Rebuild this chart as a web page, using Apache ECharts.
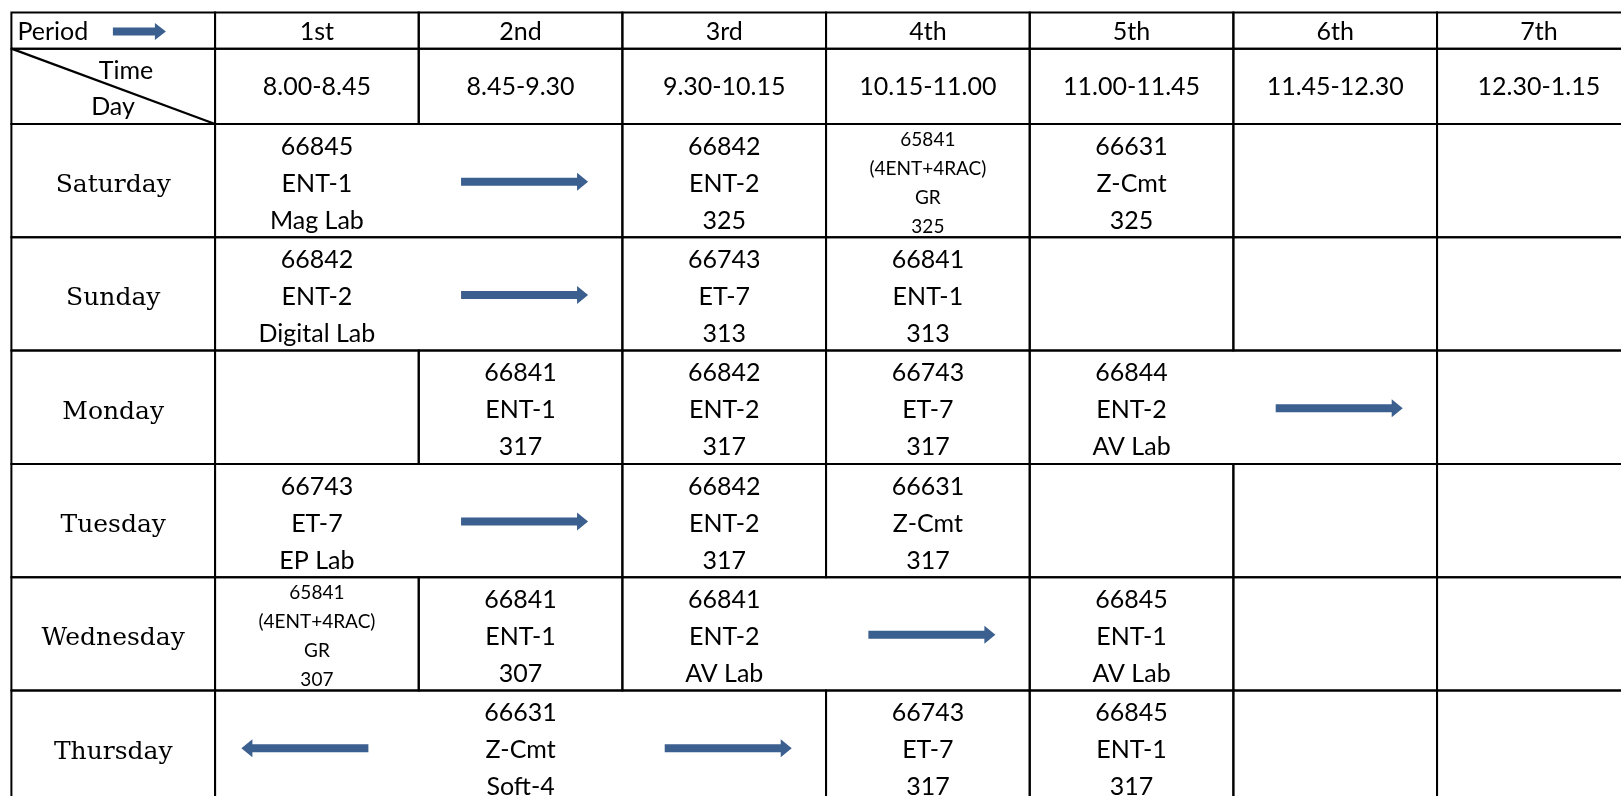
<!DOCTYPE html>
<html><head><meta charset="utf-8">
<script src="https://cdn.jsdelivr.net/npm/echarts@6/dist/echarts.min.js"></script>
<style>html,body{margin:0;padding:0;background:#fff}#c{width:1621px;height:796px}</style>
</head><body><div id="c"></div>
<script>
// ---- data ----
const periods = ['1st','2nd','3rd','4th','5th','6th','7th'];
const times = ['8.00-8.45','8.45-9.30','9.30-10.15','10.15-11.00','11.00-11.45','11.45-12.30','12.30-1.15'];
const days = ['Saturday','Sunday','Monday','Tuesday','Wednesday','Thursday'];
// [day, period, lines]
const classes = [
  ['Saturday',1,['66845','ENT-1','Mag Lab']],
  ['Saturday',3,['66842','ENT-2','325']],
  ['Saturday',4,['65841','(4ENT+4RAC)','GR','325']],
  ['Saturday',5,['66631','Z-Cmt','325']],
  ['Sunday',1,['66842','ENT-2','Digital Lab']],
  ['Sunday',3,['66743','ET-7','313']],
  ['Sunday',4,['66841','ENT-1','313']],
  ['Monday',2,['66841','ENT-1','317']],
  ['Monday',3,['66842','ENT-2','317']],
  ['Monday',4,['66743','ET-7','317']],
  ['Monday',5,['66844','ENT-2','AV Lab']],
  ['Tuesday',1,['66743','ET-7','EP Lab']],
  ['Tuesday',3,['66842','ENT-2','317']],
  ['Tuesday',4,['66631','Z-Cmt','317']],
  ['Wednesday',1,['65841','(4ENT+4RAC)','GR','307']],
  ['Wednesday',2,['66841','ENT-1','307']],
  ['Wednesday',3,['66841','ENT-2','AV Lab']],
  ['Wednesday',5,['66845','ENT-1','AV Lab']],
  ['Thursday',2,['66631','Z-Cmt','Soft-4']],
  ['Thursday',4,['66743','ET-7','317']],
  ['Thursday',5,['66845','ENT-1','317']]
];
// merged cells: [day, first period, last period]
const merged = [['Saturday',1,2],['Sunday',1,2],['Monday',5,6],['Tuesday',1,2],['Wednesday',3,4],['Thursday',1,3]];
// arrows: [day, period, direction]
const arrows = [['Saturday',2,1],['Sunday',2,1],['Monday',6,1],['Tuesday',2,1],['Wednesday',4,1],['Thursday',1,-1],['Thursday',3,1]];

// ---- layout (axis units) ----
const H1 = 0.32, H2 = 0.665, HEAD = H1 + H2;
const rowTop = d => HEAD + days.indexOf(d);

const items = [];
for (let c = 0; c < 8; c++) {
  items.push({k:'cell', a:[c,0], b:[c+1,H1]});
  items.push({k:'cell', a:[c,H1], b:[c+1,HEAD]});
}
periods.forEach((p,i) => items.push({k:'text', a:[i+1.5, H1/2], text:p}));
times.forEach((t,i) => items.push({k:'text', a:[i+1.5, H1+H2/2], text:t}));
items.push({k:'textL', a:[0, H1/2], text:'Period'});
items.push({k:'harrow', a:[0, H1/2]});
items.push({k:'diag', a:[0,H1], b:[1,HEAD]});
items.push({k:'text', a:[0.563, H1+0.277*H2], text:'Time'});
items.push({k:'text', a:[0.499, H1+0.755*H2], text:'Day'});
days.forEach((d,i) => {
  const y0 = HEAD + i, y1 = y0 + 1;
  items.push({k:'cell', a:[0,y0], b:[1,y1]});
  items.push({k:'day', a:[0.5, y0+0.5], text:d});
  let p = 1;
  while (p <= 7) {
    const m = merged.find(m => m[0] === d && m[1] === p);
    const e = m ? m[2] : p;
    items.push({k:'cell', a:[p,y0], b:[e+1,y1]});
    p = e + 1;
  }
});
classes.forEach(([d,p,lines]) => items.push({k: lines.length > 3 ? 'small' : 'cls', a:[p+0.5, rowTop(d)+0.5], text: lines.join('\n')}));
arrows.forEach(([d,p,dir]) => items.push({k:'arrow', a:[p+0.5, rowTop(d)+0.5], dir}));

const ARROW = '#3B5F8E';
function arrowShape(cx, cy, len, t, h, hl, dir) {
  const s = dir, x0 = cx - s*len/2, x1 = cx + s*len/2, xh = x1 - s*hl;
  return [[x0,cy-t],[xh,cy-t],[xh,cy-h],[x1,cy],[xh,cy+h],[xh,cy+t],[x0,cy+t]];
}

function renderItem(params, api) {
  const it = items[api.value(4)];
  const p = api.coord([api.value(0), api.value(1)]);
  const sans = 'Lato, "Open Sans", sans-serif';
  switch (it.k) {
    case 'cell': {
      const q = api.coord([api.value(2), api.value(3)]);
      return {type:'rect', shape:{x:p[0], y:p[1], width:q[0]-p[0], height:q[1]-p[1]},
        style:{fill:null, stroke:'#000', lineWidth:2}};
    }
    case 'diag': {
      const q = api.coord([api.value(2), api.value(3)]);
      return {type:'line', shape:{x1:p[0], y1:p[1], x2:q[0], y2:q[1]}, style:{stroke:'#000', lineWidth:2.2}};
    }
    case 'text':
      return {type:'text', x:p[0], y:p[1]+1, style:{text:it.text, fontFamily:sans, fontSize:25, fill:'#000', align:'center', verticalAlign:'middle'}};
    case 'textL':
      return {type:'text', x:p[0]+6, y:p[1]+1, style:{text:it.text, fontFamily:sans, fontSize:25, fill:'#000', align:'left', verticalAlign:'middle'}};
    case 'day':
      return {type:'text', x:p[0], y:p[1]+5, style:{text:it.text, fontFamily:'"DejaVu Serif", serif', fontSize:25, fill:'#000', align:'center', verticalAlign:'middle'}};
    case 'cls':
      return {type:'text', x:p[0], y:p[1]+3, style:{text:it.text, fontFamily:sans, fontSize:25, lineHeight:37, fill:'#000', align:'center', verticalAlign:'middle'}};
    case 'small':
      return {type:'text', x:p[0], y:p[1]+3, style:{text:it.text, fontFamily:sans, fontSize:19, lineHeight:29, fill:'#000', align:'center', verticalAlign:'middle'}};
    case 'arrow': {
      const cx = p[0] + (it.dir > 0 ? 4 : -12);
      return {type:'polygon', shape:{points: arrowShape(cx, p[1]+1, 127, 4, 9, 11, it.dir)}, style:{fill:ARROW, stroke:null}};
    }
    case 'harrow': {
      const cx = p[0] + 128;
      return {type:'polygon', shape:{points: arrowShape(cx, p[1]+1, 53, 4, 8.5, 11, 1)}, style:{fill:ARROW, stroke:null}};
    }
  }
}

const chart = echarts.init(document.getElementById('c'), null, {renderer:'canvas'});
chart.setOption({
  animation: false,
  backgroundColor: '#fff',
  grid: {left: 11.4, top: 12.4, width: 1629.3, height: 113.3 * (HEAD + 6), containLabel: false, outerBoundsMode: 'none'},
  xAxis: {type:'value', min:0, max:8, show:false},
  yAxis: {type:'value', min:0, max:HEAD + 6, inverse:true, show:false},
  series: [{
    type:'custom',
    coordinateSystem:'cartesian2d',
    renderItem,
    clip:false,
    encode:{x:[0,2], y:[1,3]},
    data: items.map((it,i) => [it.a[0], it.a[1], it.b ? it.b[0] : it.a[0], it.b ? it.b[1] : it.a[1], i])
  }]
});
</script>
</body></html>
